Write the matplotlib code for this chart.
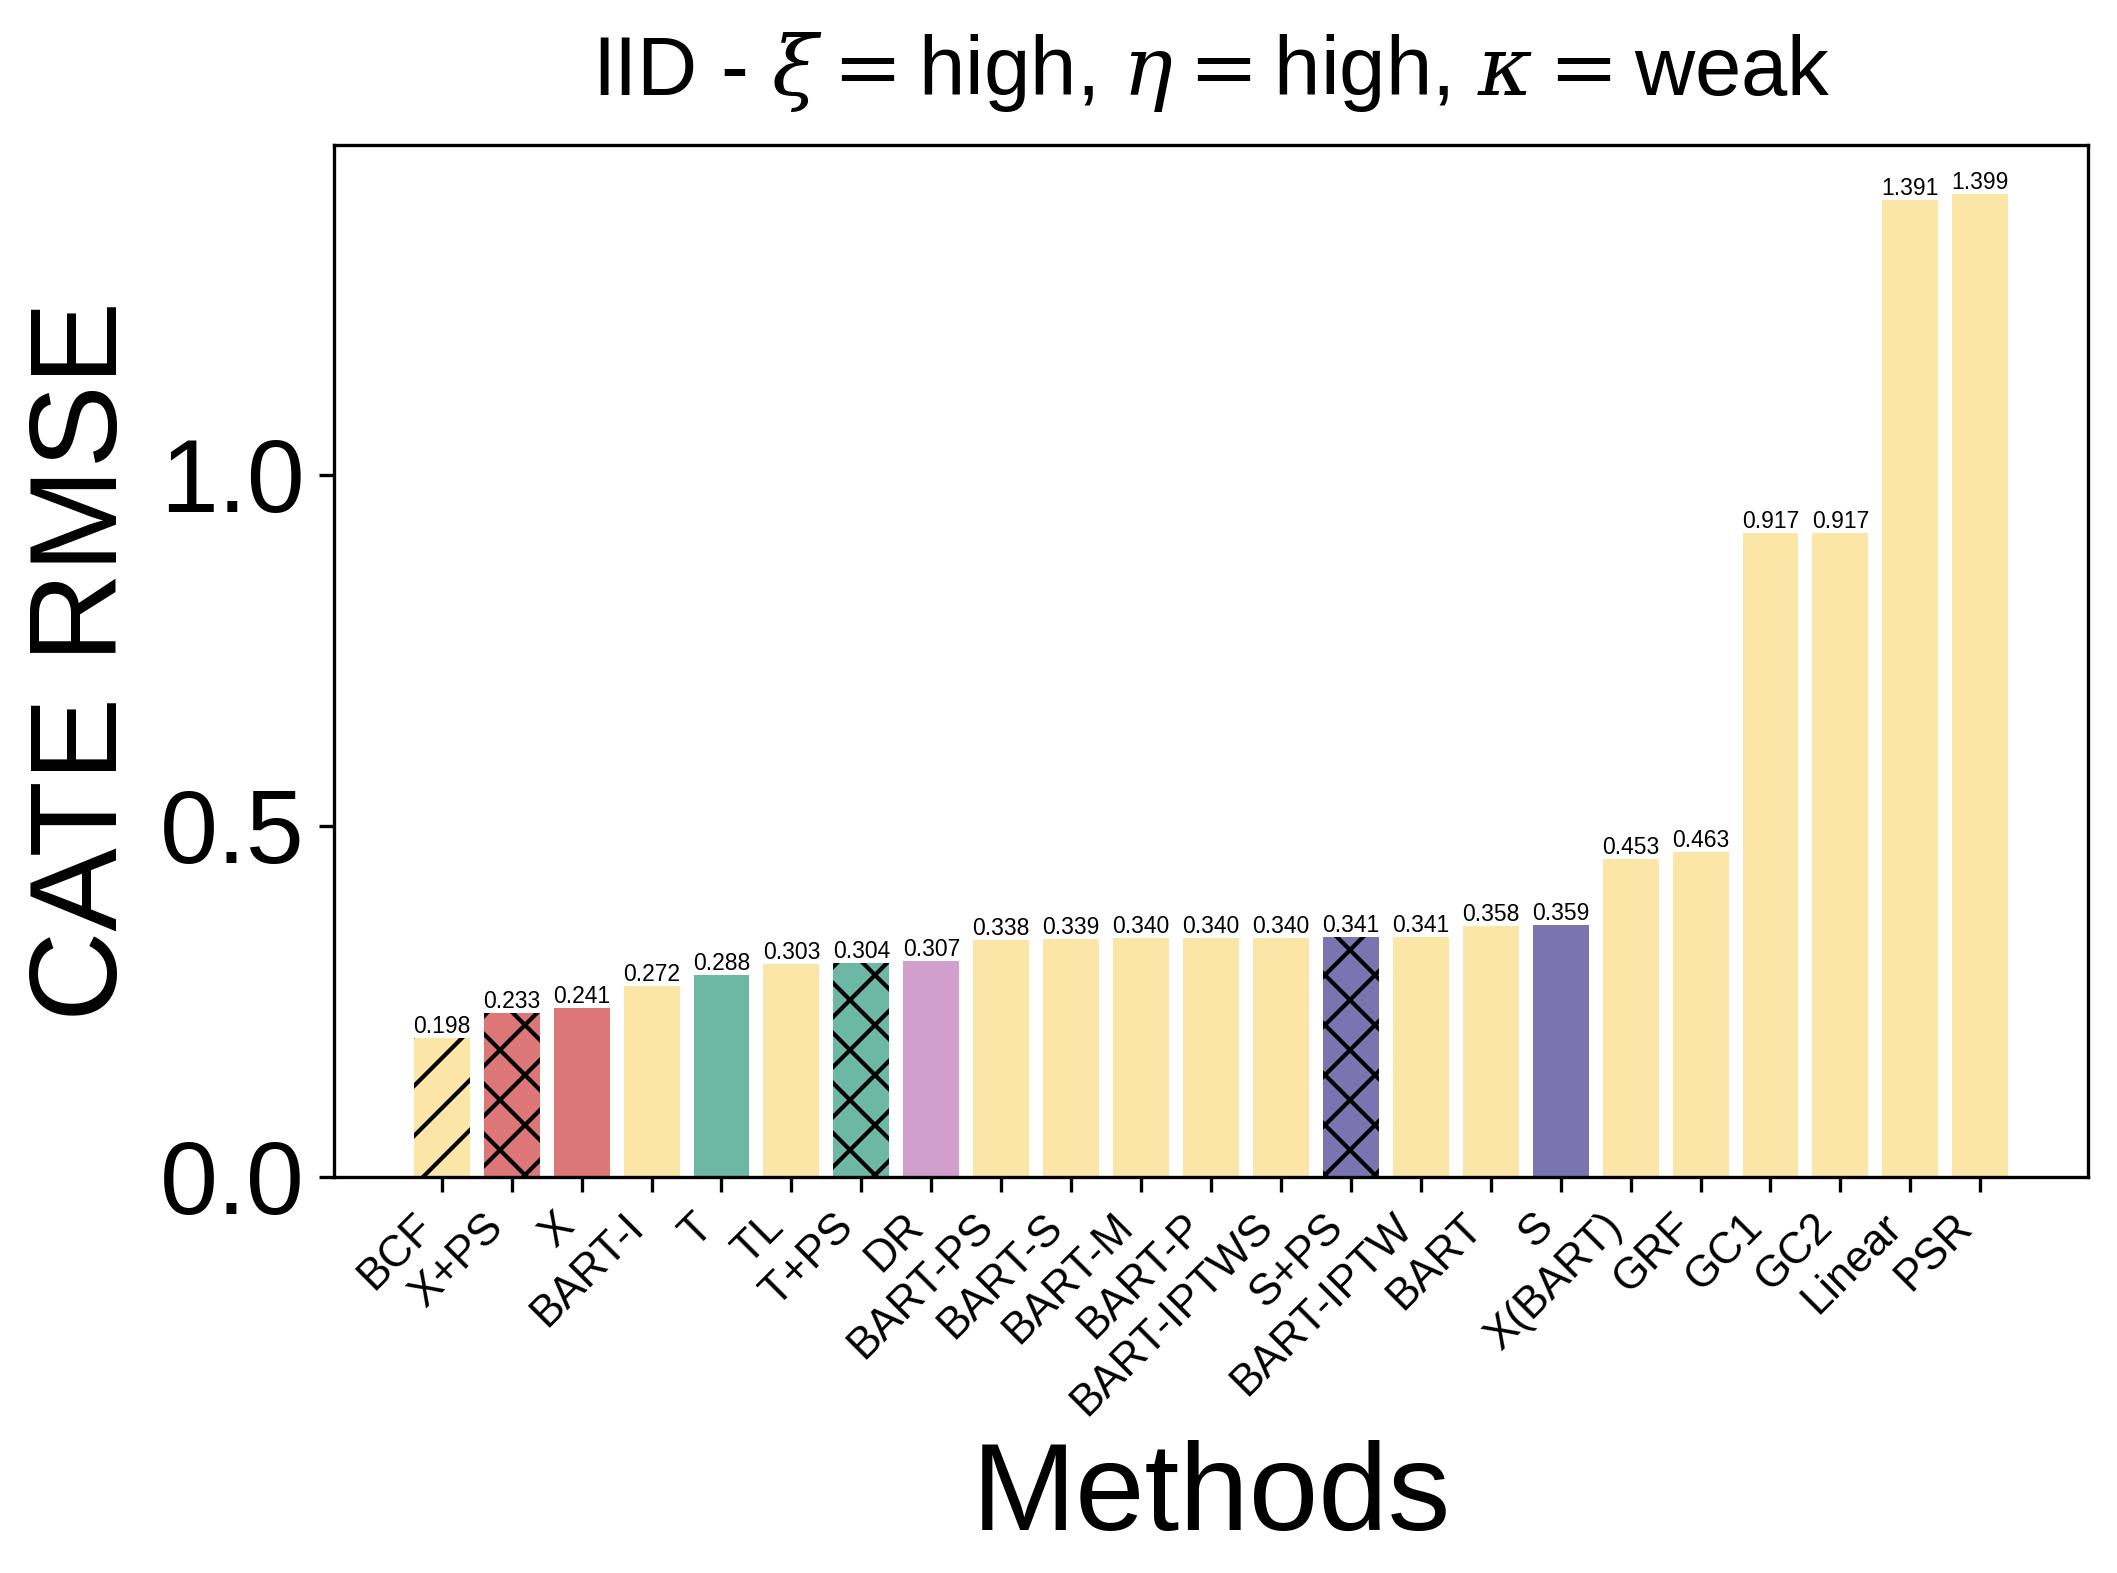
import numpy as np
import matplotlib
matplotlib.use("Agg")
import matplotlib.pyplot as plt

# data
methods = ["BCF", "X+PS", "X", "BART-I", "T", "TL", "T+PS", "DR", "BART-PS",
           "BART-S", "BART-M", "BART-P", "BART-IPTWS", "S+PS", "BART-IPTW",
           "BART", "S", "X(BART)", "GRF", "GC1", "GC2", "Linear", "PSR"]
rmse = [0.198, 0.233, 0.241, 0.272, 0.288, 0.303, 0.304, 0.307, 0.338,
        0.339, 0.340, 0.340, 0.340, 0.341, 0.341, 0.358, 0.359, 0.453,
        0.463, 0.917, 0.917, 1.391, 1.399]
groups = ["base", "x", "x", "base", "t", "base", "t", "dr", "base",
          "base", "base", "base", "base", "s", "base", "base", "s", "base",
          "base", "base", "base", "base", "base"]
hatches = ["//", "xx", "", "", "", "", "xx", "", "", "", "", "", "", "xx",
           "", "", "", "", "", "", "", "", ""]

group_colors = {"base": "#fbe6a8", "x": "#dd7676", "t": "#6db8a4",
                "dr": "#d19fcb", "s": "#7a74b1"}

plt.rcParams["font.family"] = ["Liberation Sans", "DejaVu Sans"]
plt.rcParams["mathtext.fontset"] = "dejavuserif"

fig = plt.figure(figsize=(2117 / 300, 1573 / 300), dpi=300)
ax = fig.add_axes([0.1578, 0.2518, 0.8285, 0.6558])

x = np.arange(len(methods))
bars = ax.bar(x, rmse, width=0.8,
              color=[group_colors[g] for g in groups],
              edgecolor="black", linewidth=0)
for b, h in zip(bars, hatches):
    if h:
        b.set_hatch(h)

# value labels on top of each bar
for xi, v in zip(x, rmse):
    ax.text(xi, v, f"{v:.3f}", ha="center", va="bottom", fontsize=5.5)

ax.set_xticks(x)
ax.set_xticklabels(methods, rotation=45, ha="right", fontsize=10.5)
ax.set_yticks([0.0, 0.5, 1.0])
ax.tick_params(axis="y", labelsize=25)

ax.set_xlabel("Methods", fontsize=30)
ax.set_ylabel("CATE RMSE", fontsize=30)
ax.set_title(r"IID - $\xi=$high, $\eta=$high, $\kappa=$weak", fontsize=20, pad=12)

fig.savefig("out.png", dpi=300)
